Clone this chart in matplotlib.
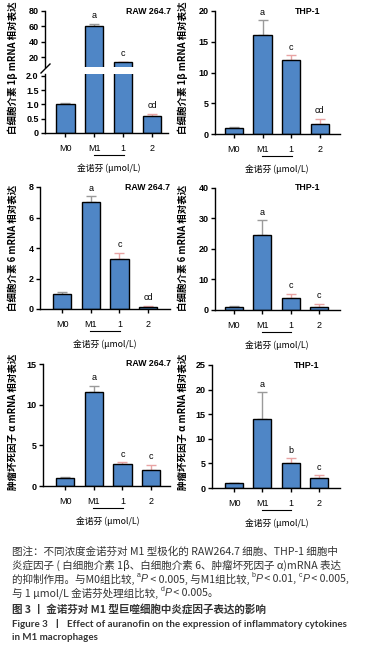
import matplotlib
matplotlib.use("Agg")
from matplotlib import pyplot as plt
from matplotlib import transforms
from matplotlib.lines import Line2D

# group labels on the x axis
groups = ['M0', 'M1', '1', '2']

# RAW264.7 / THP-1 relative mRNA expression (mean, upper error)
raw_il1b = [1.0, 61.0, 13.5, 0.6]
raw_il1b_err = [0.07, 2.5, 0.4, 0.07]
thp_il1b = [1.0, 16.1, 12.0, 1.6]
thp_il1b_err = [0.1, 2.4, 0.8, 0.9]
raw_il6 = [1.0, 7.0, 3.25, 0.15]
raw_il6_err = [0.12, 0.4, 0.45, 0.05]
thp_il6 = [1.0, 24.5, 4.0, 1.0]
thp_il6_err = [0.2, 5.0, 1.3, 1.0]
raw_tnf = [1.0, 11.6, 2.75, 1.95]
raw_tnf_err = [0.1, 0.7, 0.2, 0.65]
thp_tnf = [1.0, 14.1, 5.0, 2.05]
thp_tnf_err = [0.1, 5.4, 1.0, 0.55]

# significance letters
il1b_letters = ['', 'a', 'c', 'cd']
raw_il6_letters = ['', 'a', 'c', 'cd']
thp_il6_letters = ['', 'a', 'c', 'c']
raw_tnf_letters = ['', 'a', 'c', 'c']
thp_tnf_letters = ['', 'a', 'b', 'c']

ylabel_il1b = '白细胞介素 1β mRNA 相对表达'
ylabel_il6 = '白细胞介素 6 mRNA 相对表达'
ylabel_tnf = '肿瘤坏死因子 α mRNA 相对表达'
xlabel = '金诺芬 (μmol/L)'

# caption lines as (style, text) pieces: n = normal, s = superscript, i = italic
caption_lines = [
    [('n', '图注：不同浓度金诺芬对 M1 型极化的 RAW264.7 细胞、THP-1 细胞中')],
    [('n', '炎症因子 ( 白细胞介素 1β、白细胞介素 6、肿瘤坏死因子 α)mRNA 表达')],
    [('n', '的抑制作用。与M0组比较, '), ('s', 'a'), ('i', 'P'), ('n', ' < 0.005, 与M1组比较, '),
     ('s', 'b'), ('i', 'P'), ('n', ' < 0.01, '), ('s', 'c'), ('i', 'P'), ('n', ' < 0.005,')],
    [('n', '与 1 μmol/L 金诺芬处理组比较, '), ('s', 'd'), ('i', 'P'), ('n', ' < 0.005。')],
]
title_cn = '图 3 丨 金诺芬对 M1 型巨噬细胞中炎症因子表达的影响'
title_en = ['Figure 3  丨  Effect of auranofin on the expression of inflammatory cytokines',
            'in M1 macrophages']

BAR = '#4f86c6'
ERR = ['#9a9a9a', '#9a9a9a', '#e8a4a4', '#e8a4a4']
CJK = ['Noto Sans CJK SC', 'DejaVu Sans']
NUM = ['Liberation Sans', 'DejaVu Sans']

W, H = 390, 652
plt.rcParams['font.family'] = CJK
plt.rcParams['axes.linewidth'] = 1.0
fig = plt.figure(figsize=(W / 100, H / 100), dpi=100)


def add_axes_px(left, top, right, bottom):
    return fig.add_axes([left / W, 1 - bottom / H, (right - left) / W, (bottom - top) / H])


def style_axes(ax, xlim, ylim, yticks, ytick_labels=None, show_x=True):
    ax.set_xlim(xlim)
    ax.set_ylim(ylim)
    for s in ['top', 'right']:
        ax.spines[s].set_visible(False)
    ax.set_yticks(yticks)
    if ytick_labels is not None:
        ax.set_yticklabels(ytick_labels)
    ax.tick_params(axis='y', length=3, width=1, pad=1.5, labelsize=6.5)
    for lab in ax.get_yticklabels():
        lab.set_family(NUM)
        lab.set_weight('bold')
    if show_x:
        ax.set_xticks(range(len(groups)))
        ax.set_xticklabels(groups)
        ax.tick_params(axis='x', length=3, width=1, pad=5, labelsize=6.5)
        for lab in ax.get_xticklabels():
            lab.set_family(NUM)
    else:
        ax.spines['bottom'].set_visible(False)
        ax.set_xticks([])


def draw_bars(ax, values, errs):
    x = range(len(groups))
    ax.bar(x, values, width=0.64, color=BAR, edgecolor='black', linewidth=1, zorder=2)
    for i, (v, e) in enumerate(zip(values, errs)):
        ax.errorbar(i, v, yerr=[[0], [e]], fmt='none', ecolor=ERR[i],
                    elinewidth=1, capsize=3.5, capthick=1, zorder=1)


def draw_letters(ax, values, errs, letters):
    for i, (v, e, t) in enumerate(zip(values, errs, letters)):
        if t:
            ax.annotate(t, (i, v + e), xytext=(0, 2.5), textcoords='offset points',
                        ha='center', va='bottom', fontsize=6.5, family=NUM)


def draw_dose_label(ax):
    base = ax.get_xaxis_transform()
    line_tr = base + transforms.ScaledTranslation(0, -22 / 100, fig.dpi_scale_trans)
    ax.plot([0.98, 2.02], [0, 0], color='black', lw=0.8, transform=line_tr, clip_on=False)
    text_tr = base + transforms.ScaledTranslation(0, -35 / 100, fig.dpi_scale_trans)
    ax.text(1.5, 0, xlabel, transform=text_tr, ha='center', va='center', fontsize=6.3)


def panel_title(ax, text, x):
    ax.text(x, 1.0, text, transform=ax.transAxes, ha='center', va='center',
            fontsize=6.3, family=NUM, fontweight='bold')


def ylabel_px(x, y, text):
    fig.text(x / W, 1 - y / H, text, rotation=90, ha='center', va='center',
             fontsize=6.8, fontweight='bold')


# --- RAW264.7 IL-1β, broken axis ---
ax_up = add_axes_px(45, 11, 168, 67)
ax_lo = add_axes_px(45, 74, 168, 133)
xl1 = (-0.7, 3.55)
style_axes(ax_up, xl1, (7, 80), [20, 40, 60, 80], show_x=False)
style_axes(ax_lo, xl1, (0, 2.07), [0, 0.5, 1.0, 1.5, 2.0], ['0', '0.5', '1.0', '1.5', '2.0'])
draw_bars(ax_up, raw_il1b, raw_il1b_err)
draw_bars(ax_lo, raw_il1b, raw_il1b_err)
up_letters = [t if v > 2 else '' for v, t in zip(raw_il1b, il1b_letters)]
lo_letters = [t if v <= 2 else '' for v, t in zip(raw_il1b, il1b_letters)]
draw_letters(ax_up, raw_il1b, raw_il1b_err, up_letters)
draw_letters(ax_lo, raw_il1b, raw_il1b_err, lo_letters)
panel_title(ax_up, 'RAW 264.7', 0.84)
draw_dose_label(ax_lo)
fig.add_artist(Line2D([41 / W, 50 / W], [1 - 73 / H, 1 - 64 / H], color='black', lw=1))

# --- THP-1 IL-1β ---
ax2 = add_axes_px(215, 11, 340, 134)
style_axes(ax2, (-0.66, 3.7), (0, 20), [0, 5, 10, 15, 20])
draw_bars(ax2, thp_il1b, thp_il1b_err)
draw_letters(ax2, thp_il1b, thp_il1b_err, il1b_letters)
panel_title(ax2, 'THP-1', 0.74)
draw_dose_label(ax2)

# --- RAW264.7 IL-6 ---
ax3 = add_axes_px(40, 187, 170, 309)
style_axes(ax3, (-0.77, 3.76), (0, 8), [0, 2, 4, 6, 8])
draw_bars(ax3, raw_il6, raw_il6_err)
draw_letters(ax3, raw_il6, raw_il6_err, raw_il6_letters)
panel_title(ax3, 'RAW 264.7', 0.83)
draw_dose_label(ax3)

# --- THP-1 IL-6 ---
ax4 = add_axes_px(215, 188, 340, 310)
style_axes(ax4, (-0.67, 3.74), (0, 40), [0, 10, 20, 30, 40])
draw_bars(ax4, thp_il6, thp_il6_err)
draw_letters(ax4, thp_il6, thp_il6_err, thp_il6_letters)
panel_title(ax4, 'THP-1', 0.74)
draw_dose_label(ax4)

# --- RAW264.7 TNF-α ---
ax5 = add_axes_px(43, 364, 170, 486)
style_axes(ax5, (-0.77, 3.66), (0, 15), [0, 5, 10, 15])
draw_bars(ax5, raw_tnf, raw_tnf_err)
draw_letters(ax5, raw_tnf, raw_tnf_err, raw_tnf_letters)
panel_title(ax5, 'RAW 264.7', 0.83)
draw_dose_label(ax5)

# --- THP-1 TNF-α ---
ax6 = add_axes_px(212, 365, 340, 488)
style_axes(ax6, (-0.78, 3.74), (0, 25), [0, 5, 10, 15, 20, 25])
draw_bars(ax6, thp_tnf, thp_tnf_err)
draw_letters(ax6, thp_tnf, thp_tnf_err, thp_tnf_letters)
panel_title(ax6, 'THP-1', 0.74)
draw_dose_label(ax6)

# y labels
ylabel_px(13, 68, ylabel_il1b)
ylabel_px(183, 68, ylabel_il1b)
ylabel_px(13, 248, ylabel_il6)
ylabel_px(183, 248, ylabel_il6)
ylabel_px(13, 422, ylabel_tnf)
ylabel_px(183, 422, ylabel_tnf)

# caption, piece by piece so superscripts and italic P can be mixed in
renderer = fig.canvas.get_renderer()
for i, pieces in enumerate(caption_lines):
    x = 12.0
    y = 552 + i * 13.7
    for style, s in pieces:
        kw = dict(ha='left', va='center', color='#333333', fontsize=7.6)
        yy = y
        if style == 's':
            kw.update(fontsize=5, family=NUM)
            yy = y - 3.5
        elif style == 'i':
            kw.update(family=NUM, style='italic')
        t = fig.text(x / W, 1 - yy / H, s, **kw)
        x += t.get_window_extent(renderer).width
fig.text(12 / W, 1 - 609 / H, title_cn, ha='left', va='center',
         fontsize=7.6, color='#333333', fontweight='bold')
for i, line in enumerate(title_en):
    fig.text(12 / W, 1 - (624 + i * 14) / H, line, ha='left', va='center',
             fontsize=7.0, color='#333333', fontweight='bold',
             family=['Lato', 'Noto Sans CJK SC'])

fig.savefig('out.png', dpi=100)
